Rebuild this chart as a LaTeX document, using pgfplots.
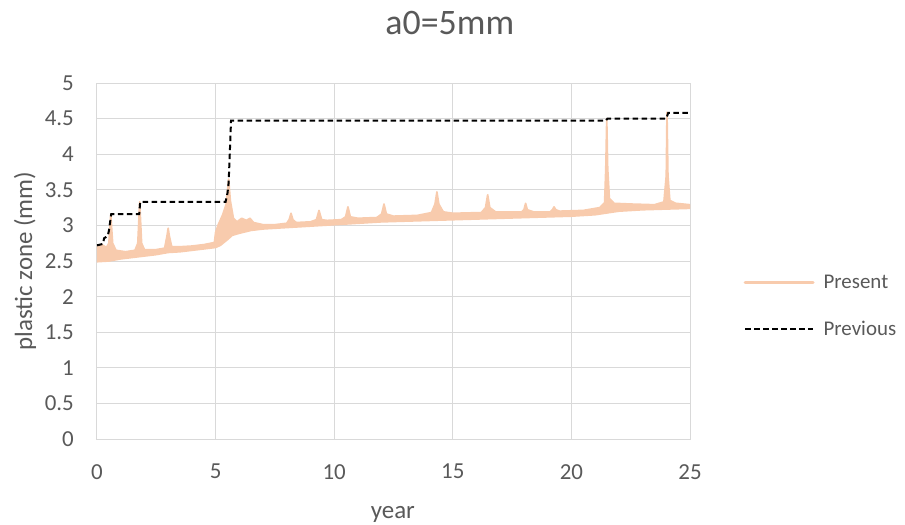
\documentclass[border=0pt]{standalone}
\usepackage{pgfplots}
\pgfplotsset{compat=1.18}
\usepackage{fontspec}
\setmainfont{Carlito}
\definecolor{peach}{HTML}{F8CBAD}
\definecolor{txt}{HTML}{595959}
\definecolor{gridc}{HTML}{D9D9D9}
\begin{document}
\begin{tikzpicture}
\path[use as bounding box] (-97bp,-86bp) rectangle (808bp,439bp);
\begin{axis}[
  scale only axis, width=593bp, height=356bp,
  xmin=0, xmax=25, ymin=0, ymax=5,
  xtick={0,5,10,15,20,25},
  ytick={0,0.5,1,1.5,2,2.5,3,3.5,4,4.5,5},
  grid=major, grid style={gridc, line width=1bp},
  axis line style={gridc, line width=1bp},
  major tick length=0pt,
  /pgf/number format/assume math mode=true,
  tick label style={font=\fontsize{23}{26}\selectfont, text=txt, inner sep=0pt},
  yticklabel style={anchor=east, xshift=-23bp},
  xticklabel style={anchor=north, yshift=-25bp},
  title={a0=5mm},
  title style={at={(axis description cs:0.595,1.152)}, anchor=center, font=\fontsize{36}{40}\selectfont, text=txt, inner sep=0pt},
  xlabel={year},
  xlabel style={at={(axis description cs:0.499,-0.2247)}, anchor=base, font=\fontsize{25}{28}\selectfont, text=txt, inner sep=0pt},
  ylabel={plastic zone (mm)},
  ylabel style={at={(axis description cs:-0.1214,0.5)}, anchor=center, rotate=0, font=\fontsize{25}{28}\selectfont, text=txt, inner sep=0pt},
  legend style={at={(axis description cs:1.085,0.374)}, anchor=west, draw=none, fill=none,
    font=\fontsize{21}{24}\selectfont, text=txt, row sep=27bp,
    nodes={inner sep=2bp},
    /tikz/every odd column/.append style={column sep=7bp}},
  legend cell align=left,
]
\addplot[fill=peach, draw=peach, line width=1.7bp, line join=round,
  legend image code/.code={\draw[peach, line width=3bp, line cap=round] (0bp,0bp) -- (68bp,0bp);}]
coordinates {
(0,2.71) (0.2,2.73) (0.4,2.69) (0.5,2.75) (0.58,3.15) (0.66,2.75) (0.8,2.65)
(1.2,2.63) (1.6,2.65) (1.72,2.75) (1.8,3.33) (1.88,2.75) (2.0,2.66) (2.5,2.66)
(2.85,2.68) (2.95,2.85) (3.0,2.96) (3.05,2.85) (3.15,2.70) (3.5,2.70) (4.0,2.71)
(4.5,2.73) (4.95,2.76) (5.0,2.90) (5.1,3.00) (5.3,3.15) (5.45,3.30) (5.55,3.65)
(5.62,3.35) (5.75,3.10) (5.9,3.05) (6.1,3.10) (6.3,3.07) (6.45,3.10) (6.6,3.04)
(7.0,3.01) (7.5,3.01) (8.0,3.03) (8.1,3.08) (8.18,3.17) (8.26,3.08) (8.4,3.04)
(9.0,3.05) (9.25,3.08) (9.36,3.21) (9.47,3.08) (9.7,3.07) (10.3,3.08) (10.48,3.12)
(10.58,3.26) (10.68,3.12) (11.0,3.10) (11.8,3.11) (12.0,3.16) (12.1,3.30) (12.2,3.16)
(12.5,3.13) (13.5,3.14) (14.1,3.18) (14.25,3.30) (14.33,3.47) (14.41,3.30) (14.6,3.19)
(15.0,3.17) (16.2,3.18) (16.38,3.25) (16.47,3.43) (16.56,3.25) (16.8,3.19) (17.9,3.19)
(18.0,3.22) (18.07,3.31) (18.14,3.22) (18.4,3.19) (19.1,3.19) (19.2,3.22) (19.27,3.26)
(19.34,3.22) (19.5,3.20) (20.5,3.21) (21.2,3.25) (21.4,3.32) (21.45,3.80) (21.49,4.50)
(21.53,3.80) (21.6,3.38) (21.8,3.31) (22.5,3.30) (23.5,3.29) (23.9,3.33) (24.0,3.70)
(24.03,4.59) (24.07,3.70) (24.15,3.35) (24.4,3.31) (25.0,3.29)
(25.0,3.24) (24.0,3.23) (23.0,3.22) (22.0,3.20) (21.0,3.15) (20.0,3.13) (19.0,3.12)
(18.0,3.11) (17.0,3.10) (16.0,3.09) (15.0,3.08) (14.0,3.07) (13.0,3.06) (12.0,3.05)
(11.0,3.03) (10.0,3.01) (9.0,2.99) (8.0,2.97) (7.5,2.96) (7.0,2.95) (6.5,2.93)
(6.0,2.89) (5.7,2.86) (5.5,2.80) (5.2,2.72) (5.0,2.69) (4.5,2.67) (4.0,2.65)
(3.5,2.63) (3.0,2.62) (2.5,2.59) (2.0,2.57) (1.5,2.55) (1.0,2.53) (0.5,2.50) (0,2.49)
};
\addlegendentry{Present}
\addplot[black, line width=2bp, dash pattern=on 5.5bp off 3.5bp,
  legend image code/.code={\draw[black, line width=2bp, dash pattern=on 5.5bp off 3.5bp] (0bp,0bp) -- (68bp,0bp);}]
coordinates {
(0,2.72) (0.25,2.74) (0.3,2.82) (0.45,2.85) (0.5,2.92) (0.6,3.16) (1.78,3.16)
(1.82,3.33) (5.42,3.33) (5.5,3.45) (5.55,3.60) (5.62,4.20) (5.65,4.47) (21.45,4.47)
(21.52,4.50) (24.0,4.50) (24.08,4.58) (25.0,4.58)
};
\addlegendentry{Previous}
\end{axis}
\end{tikzpicture}
\end{document}
